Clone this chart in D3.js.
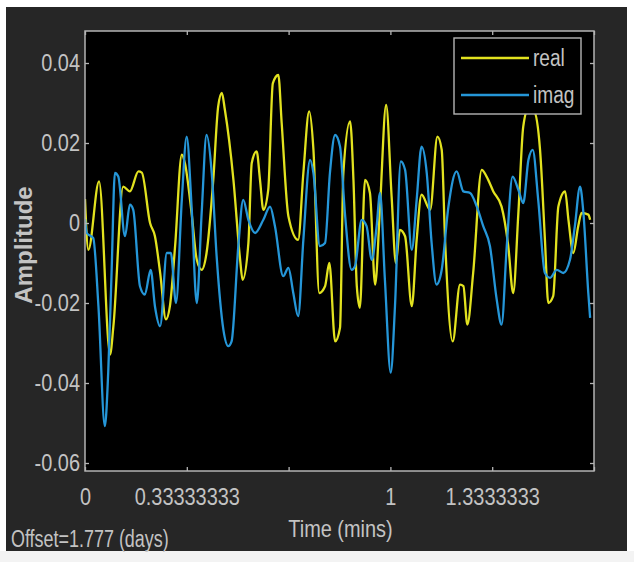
<!DOCTYPE html>
<html>
<head>
<meta charset="utf-8">
<script src="https://cdn.jsdelivr.net/npm/d3@7/dist/d3.min.js"></script>
<style>
  html, body { margin: 0; padding: 0; background: #ffffff; }
  svg { display: block; }
  text { font-family: "Liberation Sans", Arial, sans-serif; }
</style>
</head>
<body>
<svg id="chart" width="634" height="562"></svg>
<script>
// ---- data (time in minutes, amplitude) ----
const realTime = [0,0.011,0.046,0.082,0.093,0.125,0.147,0.175,0.186,0.213,0.229,0.246,0.265,0.278,0.295,0.317,0.327,0.349,0.366,0.382,0.398,0.420,0.436,0.448,0.458,0.486,0.508,0.516,0.535,0.546,0.562,0.573,0.584,0.600,0.615,0.633,0.644,0.666,0.698,0.715,0.734,0.748,0.767,0.786,0.800,0.819,0.835,0.846,0.868,0.879,0.890,0.900,0.917,0.933,0.950,0.966,0.986,1.004,1.018,1.031,1.048,1.070,1.086,1.102,1.130,1.154,1.168,1.179,1.204,1.228,1.239,1.252,1.271,1.299,1.315,1.337,1.364,1.386,1.402,1.419,1.435,1.451,1.470,1.490,1.506,1.517,1.533,1.550,1.572,1.583,1.599,1.615,1.626,1.648,1.654];
const realValues = [0.0060,-0.0067,0.0104,-0.0329,-0.0258,0.0091,0.0079,0.0129,0.0126,0.0000,-0.0033,-0.0124,-0.0241,-0.0208,-0.0058,0.0171,0.0150,0.0025,-0.0092,-0.0117,-0.0075,0.0108,0.0291,0.0325,0.0283,0.0108,-0.0092,-0.0142,-0.0050,0.0150,0.0179,0.0108,0.0033,0.0083,0.0349,0.0370,0.0250,0.0017,-0.0042,0.0125,0.0279,0.0183,-0.0175,-0.0158,-0.0100,-0.0296,-0.0262,0.0125,0.0254,0.0108,-0.0158,-0.0212,0.0108,0.0075,-0.0154,0.0041,0.0295,0.0066,-0.0100,-0.0017,-0.0033,-0.0208,-0.0042,0.0071,0.0033,0.0216,0.0183,-0.0042,-0.0296,-0.0154,-0.0158,-0.0254,-0.0125,0.0133,0.0116,0.0079,0.0041,-0.0058,-0.0175,0.0025,0.0241,0.0285,0.0280,0.0183,-0.0042,-0.0200,-0.0183,0.0041,0.0079,0.0008,-0.0075,-0.0008,0.0025,0.0021,0.0008];

const imagTime = [0,0.006,0.027,0.044,0.065,0.076,0.087,0.098,0.109,0.131,0.147,0.158,0.180,0.196,0.215,0.229,0.246,0.268,0.281,0.298,0.317,0.333,0.349,0.366,0.382,0.398,0.415,0.431,0.453,0.469,0.480,0.502,0.518,0.535,0.557,0.584,0.606,0.622,0.649,0.666,0.682,0.698,0.715,0.737,0.748,0.769,0.786,0.802,0.819,0.835,0.851,0.873,0.884,0.906,0.922,0.939,0.955,0.966,0.982,1.001,1.015,1.034,1.048,1.070,1.086,1.102,1.119,1.135,1.151,1.168,1.190,1.217,1.239,1.261,1.283,1.304,1.326,1.348,1.364,1.381,1.400,1.419,1.435,1.452,1.466,1.484,1.506,1.523,1.545,1.566,1.588,1.604,1.621,1.632,1.648,1.654];
const imagValues = [0.0010,-0.0025,-0.0038,-0.0208,-0.0508,-0.0374,-0.0125,0.0125,0.0116,-0.0033,0.0046,0.0033,-0.0158,-0.0179,-0.0117,-0.0208,-0.0258,-0.0075,-0.0075,-0.0200,0.0058,0.0216,0.0041,-0.0200,0.0025,0.0220,0.0125,-0.0083,-0.0266,-0.0308,-0.0296,-0.0058,0.0058,0.0008,-0.0025,0.0008,0.0041,-0.0008,-0.0133,-0.0112,-0.0175,-0.0233,-0.0042,0.0158,0.0125,-0.0058,-0.0050,0.0125,0.0220,0.0191,0.0025,-0.0117,-0.0108,0.0008,-0.0008,-0.0092,-0.0008,0.0075,-0.0142,-0.0374,-0.0208,0.0154,0.0133,-0.0067,0.0058,0.0191,0.0125,-0.0050,-0.0154,-0.0117,0.0041,0.0129,0.0079,0.0075,0.0041,-0.0008,-0.0058,-0.0191,-0.0254,-0.0058,0.0116,0.0083,0.0050,0.0158,0.0183,0.0058,-0.0125,-0.0137,-0.0117,-0.0125,-0.0092,-0.0008,0.0091,0.0025,-0.0175,-0.0237];

const seriesNames = ["real", "imag"];
const seriesColors = ["#e2e21f", "#2596d8"];

const xTicks = [0, 1/3, 2/3, 1, 4/3, 5/3];
const xTickLabels = ["0", "0.33333333", "", "1", "1.3333333", ""];
const yTicks = [-0.06, -0.04, -0.02, 0, 0.02, 0.04];
const yTickLabels = ["-0.06", "-0.04", "-0.02", "0", "0.02", "0.04"];
const xDomain = [0, 5/3];
const yDomain = [-0.062, 0.048];

const xLabel = "Time (mins)";
const yLabel = "Amplitude";
const offsetLabel = "Offset=1.777 (days)";

// ---- layout ----
const W = 634, H = 562;
const m = { left: 85, right: 594, top: 31, bottom: 471 };
const textColor = "#c3c3c3";
const axisColor = "#b4b4b4";
const squishF = 0.83;

const svg = d3.select("#chart");

function squish(sel, f) {
  sel.each(function () {
    const w = this.getComputedTextLength();
    if (w > 0) {
      this.setAttribute("textLength", (w * f).toFixed(2));
      this.setAttribute("lengthAdjust", "spacingAndGlyphs");
    }
  });
}

// background
svg.append("rect").attr("x", 0).attr("y", 0).attr("width", W).attr("height", H).attr("fill", "#ffffff");
svg.append("rect").attr("x", 6).attr("y", 7).attr("width", 621).attr("height", 544).attr("fill", "#262626");
svg.append("rect").attr("x", 0).attr("y", 551).attr("width", W).attr("height", 11).attr("fill", "#f3f3f3");

// plot area
svg.append("rect").attr("x", m.left).attr("y", m.top)
  .attr("width", m.right - m.left).attr("height", m.bottom - m.top).attr("fill", "#000000");

const x = d3.scaleLinear().domain(xDomain).range([m.left, m.right]);
const y = d3.scaleLinear().domain(yDomain).range([m.bottom, m.top]);

svg.append("clipPath").attr("id", "clip").append("rect")
  .attr("x", m.left).attr("y", m.top).attr("width", m.right - m.left).attr("height", m.bottom - m.top);

const line = d3.line().x(d => x(d[0])).y(d => y(d[1])).curve(d3.curveMonotoneX);
const seriesData = [
  d3.zip(realTime, realValues),
  d3.zip(imagTime, imagValues)
];

const gLines = svg.append("g").attr("clip-path", "url(#clip)");
seriesData.forEach((data, i) => {
  gLines.append("path").datum(data)
    .attr("fill", "none")
    .attr("stroke", seriesColors[i])
    .attr("stroke-width", 2.3)
    .attr("stroke-linejoin", "round")
    .attr("d", line);
});

// axes
function styleAxis(g) {
  g.select(".domain").remove();
  g.selectAll(".tick line").attr("stroke", axisColor).attr("stroke-width", 1.3);
  g.selectAll(".tick text").attr("fill", textColor).style("font-size", "24px")
    .style("font-family", "'Liberation Sans', Arial, sans-serif");
}

const gx = svg.append("g").attr("transform", `translate(0,${m.bottom})`)
  .call(d3.axisBottom(x).tickValues(xTicks).tickFormat((d, i) => xTickLabels[i])
    .tickSizeInner(-4).tickSizeOuter(0).tickPadding(17));
styleAxis(gx);
squish(gx.selectAll(".tick text"), squishF);

const gxt = svg.append("g").attr("transform", `translate(0,${m.top})`)
  .call(d3.axisTop(x).tickValues(xTicks).tickFormat("").tickSizeInner(-4).tickSizeOuter(0));
styleAxis(gxt);

const gy = svg.append("g").attr("transform", `translate(${m.left},0)`)
  .call(d3.axisLeft(y).tickValues(yTicks).tickFormat((d, i) => yTickLabels[i])
    .tickSizeInner(-4).tickSizeOuter(0).tickPadding(5));
styleAxis(gy);
squish(gy.selectAll(".tick text"), squishF);

const gyr = svg.append("g").attr("transform", `translate(${m.right},0)`)
  .call(d3.axisRight(y).tickValues(yTicks).tickFormat("").tickSizeInner(-4).tickSizeOuter(0));
styleAxis(gyr);

// box
svg.append("rect").attr("x", m.left).attr("y", m.top)
  .attr("width", m.right - m.left).attr("height", m.bottom - m.top)
  .attr("fill", "none").attr("stroke", axisColor).attr("stroke-width", 1.5);

// labels
const xl = svg.append("text").attr("x", (m.left + m.right) / 2 + 1).attr("y", 537)
  .attr("text-anchor", "middle").attr("fill", textColor).style("font-size", "24px").text(xLabel);
squish(xl, squishF);

const ol = svg.append("text").attr("x", 11).attr("y", 547)
  .attr("text-anchor", "start").attr("fill", textColor).style("font-size", "23px").text(offsetLabel);
squish(ol, 0.78);

svg.append("text").attr("transform", "translate(32,245) rotate(-90)")
  .attr("text-anchor", "middle").attr("fill", textColor)
  .style("font-size", "24px").style("font-weight", "bold").text(yLabel);

// legend
const lg = svg.append("g");
lg.append("rect").attr("x", 454).attr("y", 38).attr("width", 127).attr("height", 76)
  .attr("fill", "#000000").attr("stroke", axisColor).attr("stroke-width", 1.4);
const legY = [58, 95];
seriesNames.forEach((name, i) => {
  lg.append("line").attr("x1", 461).attr("x2", 529).attr("y1", legY[i]).attr("y2", legY[i])
    .attr("stroke", seriesColors[i]).attr("stroke-width", 2.5);
  const t = lg.append("text").attr("x", 533).attr("y", legY[i] + 8)
    .attr("fill", textColor).style("font-size", "23px").text(name);
  squish(t, squishF);
});
</script>
</body>
</html>
